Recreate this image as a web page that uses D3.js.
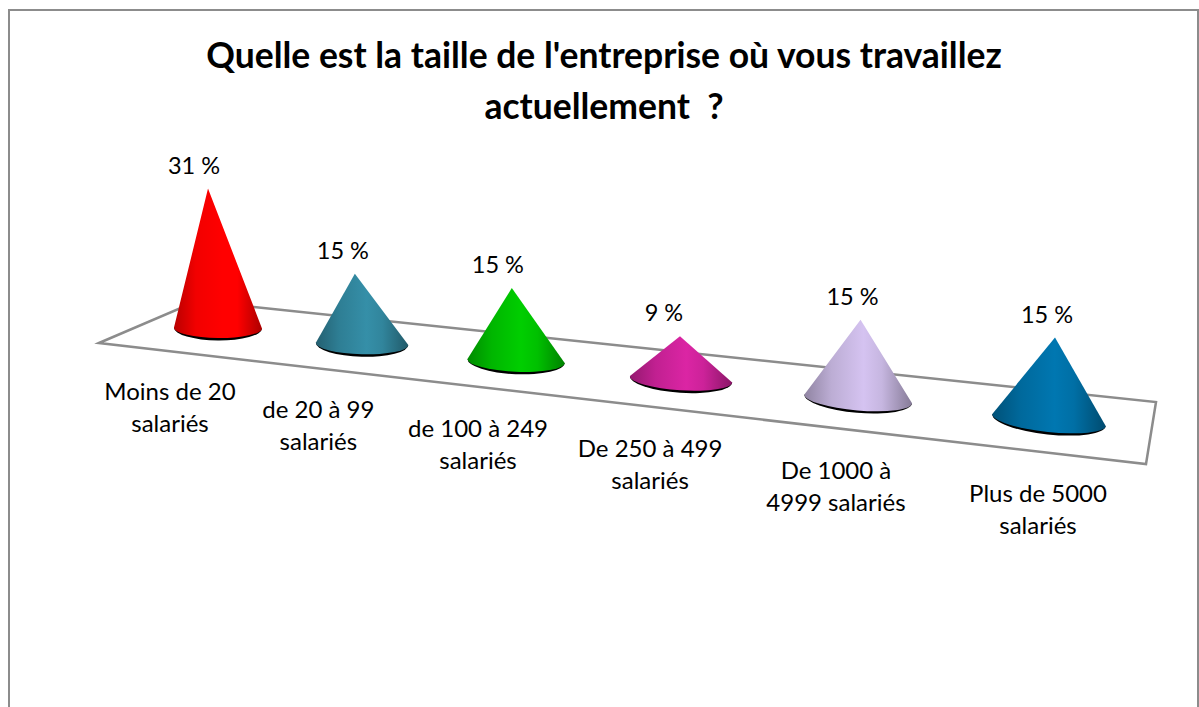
<!DOCTYPE html>
<html lang="fr">
<head>
<meta charset="utf-8">
<title>Taille de l'entreprise</title>
<script src="https://cdn.jsdelivr.net/npm/d3@7/dist/d3.min.js"></script>
<style>html,body{margin:0;padding:0;background:#fff;overflow:hidden}svg{display:block}text{font-family:Lato,"Open Sans",sans-serif;fill:#000}</style>
</head>
<body>
<svg id="chart" width="1199" height="707"></svg>
<script>
const titleLines = ["Quelle est la taille de l'entreprise où vous travaillez", "actuellement  ?"];
const categories = [["Moins de 20","salariés"],["de 20 à 99","salariés"],["de 100 à 249","salariés"],["De 250 à 499","salariés"],["De 1000 à","4999 salariés"],["Plus de 5000","salariés"]];
const values = [31, 15, 15, 8.5, 15, 15];
const colors = ["#ff0000", "#31859c", "#00c000", "#cc2299", "#c6b6e0", "#006fa5"];

const svg = d3.select("#chart");
const defs = svg.append("defs");
const depth = i => { const t = i / (values.length - 1), b = 0.161; return t * (1 - b) / (1 - b * t); };
const x = d3.scaleLinear([0, 1], [218, 1049]);
const y = d3.scaleLinear([0, 1], [328, 420]);
const radius = d3.scaleLinear([0, 1], [44, 57]);
const ry = d3.scaleLinear([0, 1], [10, 12]);
const tilt = d3.scaleLinear([0, 1], [0.5, 6]);
const unit = d3.scaleLinear([0, 1], [4.5, 5.5]);
const lean = d3.scaleLinear([0, 1], [-10, 6]);
const catX = d3.scaleLinear([0, 1], [170, 1037]);
const catY = d3.scaleLinear([0, 1], [400, 502]);
const valueShift = [-14, -12, -14, -16, -8, -8];
const catShift = [0, -2, -3, -3, -2, 1];

svg.append("rect").attr("x", 9).attr("y", 10).attr("width", 1189).attr("height", 720)
  .attr("fill", "#fff").attr("stroke", "#8c8c8c").attr("stroke-width", 2);

svg.selectAll("text.title").data(titleLines).join("text").attr("class", "title")
  .attr("x", 604).attr("y", (d, i) => 68 + i * 51)
  .attr("text-anchor", "middle").attr("font-size", 35.5).attr("font-weight", 700)
  .style("white-space", "pre").text(d => d);

svg.append("polygon").attr("points", "99,343 197,301 1156,402 1146,464")
  .attr("fill", "#fff").attr("stroke", "#8c8c8c").attr("stroke-width", 2.5);

const cones = values.map((v, i) => {
  const f = depth(i), cx = x(f), cy = y(f), r = radius(f), a = tilt(f) * Math.PI / 180;
  return { v, i, f, cx, cy, r, ry: ry(f), tiltDeg: tilt(f),
    lx: cx - r * Math.cos(a), ly: cy - r * Math.sin(a),
    rx: cx + r * Math.cos(a), ry2: cy + r * Math.sin(a),
    ax: cx + lean(f), ay: cy - v * unit(f), color: colors[i] };
});

cones.forEach(c => {
  const base = d3.color(c.color);
  const g = defs.append("linearGradient").attr("id", "g" + c.i)
    .attr("gradientUnits", "userSpaceOnUse")
    .attr("x1", c.lx).attr("x2", c.rx).attr("y1", 0).attr("y2", 0);
  [[0, base.darker(0.9)], [0.25, base.darker(0.15)], [0.55, base.brighter(0.2)],
   [0.72, base], [1, base.darker(1.1)]].forEach(([o, col]) =>
    g.append("stop").attr("offset", o).attr("stop-color", col.formatHex()));
});

const cone = svg.selectAll("g.cone").data(cones).join("g").attr("class", "cone");
cone.append("path").attr("fill", "#000")
  .attr("d", c => `M${c.lx},${c.ly}A${c.r},${c.ry + 2.5} ${c.tiltDeg} 0 0 ${c.rx},${c.ry2}Z`);
cone.append("path").attr("fill", c => `url(#g${c.i})`)
  .attr("d", c => `M${c.ax},${c.ay}L${c.lx},${c.ly}A${c.r},${c.ry} ${c.tiltDeg} 0 0 ${c.rx},${c.ry2}Z`);

svg.selectAll("text.value").data(cones).join("text").attr("class", "value")
  .attr("x", c => c.ax + valueShift[c.i]).attr("y", c => c.ay - 15)
  .attr("text-anchor", "middle").attr("font-size", 23.5)
  .text(c => Math.round(c.v) + " %");

const cat = svg.selectAll("text.cat").data(categories).join("text").attr("class", "cat")
  .attr("text-anchor", "middle").attr("font-size", 24);
cat.selectAll("tspan").data((d, i) => d.map(t => ({ t, i }))).join("tspan")
  .attr("x", d => catX(depth(d.i)) + catShift[d.i])
  .attr("y", (d, j) => catY(depth(d.i)) + j * 32)
  .text(d => d.t);
</script>
</body>
</html>
